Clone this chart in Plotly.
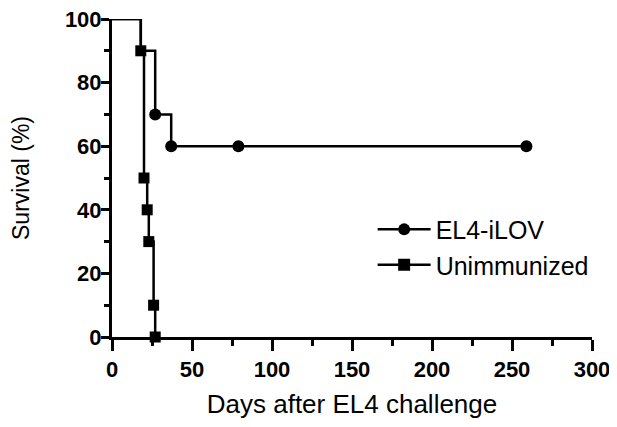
import plotly.graph_objects as go

# Data (Kaplan-Meier style steps)
el4_days = [0, 18, 27, 37, 79, 259]
el4_survival = [100, 90, 70, 60, 60, 60]
el4_marker_shown = [False, False, True, True, True, True]

unimm_days = [0, 18, 20, 22, 23, 26, 27]
unimm_survival = [100, 90, 50, 40, 30, 10, 0]
unimm_marker_shown = [False, True, True, True, True, True, True]

x_ticks = [0, 50, 100, 150, 200, 250, 300]
y_ticks = [0, 20, 40, 60, 80, 100]

FONT = "Liberation Sans, Arial, sans-serif"

fig = go.Figure()
series = [
    ("EL4-iLOV", el4_days, el4_survival, el4_marker_shown, "circle", 12),
    ("Unimmunized", unimm_days, unimm_survival, unimm_marker_shown, "square", 11),
]
for name, xs, ys, shown, sym, sz in series:
    fig.add_trace(go.Scatter(
        x=xs, y=ys, name=name, legendgroup=name, showlegend=False,
        mode="lines+markers", line=dict(color="black", width=2.5, shape="hv"),
        marker=dict(symbol=sym, color="black", opacity=1,
                    line=dict(width=0, color="black"),
                    size=[sz if s else 0 for s in shown]),
        cliponaxis=False,
    ))
for name, xs, ys, shown, sym, sz in series:
    fig.add_trace(go.Scatter(
        x=[None], y=[None], name=name, legendgroup=name, showlegend=True,
        mode="lines+markers", line=dict(color="black", width=2.5),
        marker=dict(symbol=sym, color="black", size=12, opacity=1,
                    line=dict(width=0, color="black")),
    ))

# the page adds an 8px body margin, so the figure is sized to fit the window
fig.update_layout(
    width=609, height=419,
    margin=dict(l=104, r=25, t=11, b=90),
    paper_bgcolor="white", plot_bgcolor="white",
    font=dict(family=FONT, color="black"),
    showlegend=True,
    legend=dict(x=0.543, y=0.41, xanchor="left", yanchor="top",
                font=dict(size=25, family=FONT, color="black"),
                itemwidth=53, tracegroupgap=0,
                bgcolor="rgba(0,0,0,0)"),
)
fig.update_xaxes(
    range=[0, 300], tickvals=x_ticks, ticktext=[str(v) for v in x_ticks],
    showline=True, linewidth=3, linecolor="black", mirror=False,
    ticks="outside", ticklen=11, tickwidth=2.5, tickcolor="black",
    minor=dict(dtick=25, ticks="outside", ticklen=6, tickwidth=2.5, tickcolor="black"),
    showgrid=False, zeroline=False, automargin=False, ticklabeloverflow="allow",
    tickfont=dict(size=22, family=FONT, color="black", weight="bold"),
    title=dict(text="Days after EL4 challenge", font=dict(size=26, family=FONT), standoff=14),
)
fig.update_yaxes(
    range=[0, 100], tickvals=y_ticks, ticktext=[str(v) for v in y_ticks],
    showline=True, linewidth=3, linecolor="black", mirror=False,
    ticks="outside", ticklen=8, tickwidth=2.5, tickcolor="black",
    minor=dict(dtick=10, ticks="outside", ticklen=5, tickwidth=2.5, tickcolor="black"),
    showgrid=False, zeroline=False, automargin=False, ticklabeloverflow="allow",
    ticklabelstandoff=-5,
    tickfont=dict(size=22, family=FONT, color="black", weight="bold"),
    title=dict(text="Survival (%)", font=dict(size=23, family=FONT), standoff=31),
)

fig.write_html("out.html")
